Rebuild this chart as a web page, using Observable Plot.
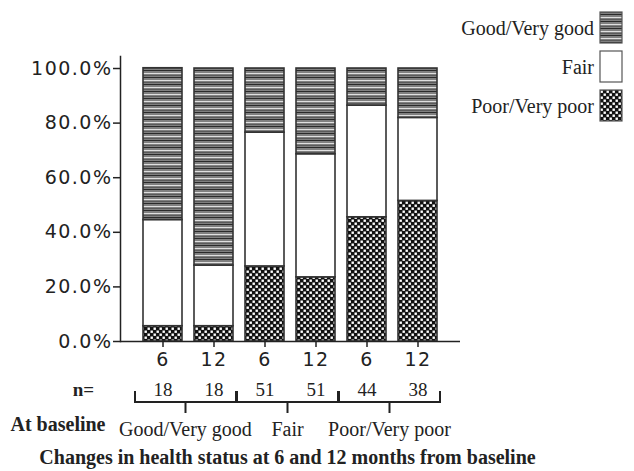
<!DOCTYPE html>
<html>
<head>
<meta charset="utf-8">
<script src="https://cdn.jsdelivr.net/npm/d3@7"></script>
<script src="https://cdn.jsdelivr.net/npm/@observablehq/plot@0.6"></script>
<style>
  html, body { margin: 0; padding: 0; background: #fff; }
  #chart g[aria-label="y-axis tick label"] text,
  #chart g[aria-label="x-axis tick label"] text { letter-spacing: 1.5px; }
</style>
</head>
<body>
<div id="chart"></div>
<script>
// ---- data ----
const categories = ["Poor/Very poor", "Fair", "Good/Very good"]; // stacked bottom -> top
const legendOrder = ["Good/Very good", "Fair", "Poor/Very poor"];
const groups = ["Good/Very good", "Fair", "Poor/Very poor"];
const barGroup = [0, 0, 1, 1, 2, 2];
const months = ["6", "12", "6", "12", "6", "12"];
const nValues = [18, 18, 51, 51, 44, 38];
const poorValues = [5.6, 5.6, 27.5, 23.5, 45.5, 51.5];
const fairValues = [38.9, 22.2, 49.0, 45.1, 40.9, 30.4];
const goodValues = [55.6, 72.2, 23.5, 31.4, 13.6, 18.1];
const yTicks = [0, 20, 40, 60, 80, 100];

const barIds = months.map((m, i) => i);
const rows = [];
barIds.forEach(i => {
  rows.push({bar: i, cat: categories[0], value: poorValues[i]});
  rows.push({bar: i, cat: categories[1], value: fairValues[i]});
  rows.push({bar: i, cat: categories[2], value: goodValues[i]});
});
const patternOf = {"Poor/Very poor": "url(#pat-poor)", "Fair": "#ffffff", "Good/Very good": "url(#pat-good)"};

const serif = "Liberation Serif, Times New Roman, serif";
const sans = "DejaVu Sans, sans-serif";

const plot = Plot.plot({
  width: 634,
  height: 471,
  marginLeft: 120,
  marginRight: 174,
  marginTop: 56,
  marginBottom: 130,
  style: {fontFamily: sans, fontSize: "19px", color: "#222", background: "#fff"},
  x: {domain: barIds, paddingInner: 0.245, paddingOuter: 0.44, axis: null},
  y: {domain: [0, 104.4], axis: null},
  color: {domain: categories, range: categories.map(c => patternOf[c])},
  marks: [
    Plot.barY(rows, {x: "bar", y: "value", fill: "cat", stroke: "#333", strokeWidth: 1.6}),
    Plot.frame({anchor: "left", stroke: "#222", strokeWidth: 1.5}),
    Plot.ruleY([0], {stroke: "#222", strokeWidth: 1.5}),
    Plot.axisY({ticks: yTicks, tickFormat: d => d.toFixed(1) + "%", tickSize: 7, tickPadding: 1, label: null,
      fontSize: 19, fontFamily: sans, stroke: "#222", strokeWidth: 1.5}),
    Plot.axisX({tickSize: 6, tickPadding: 5, tickFormat: i => months[i], label: null, fontSize: 19, fontFamily: sans,
      stroke: "#222", strokeWidth: 1.5}),
    Plot.text(barIds, {x: d => d, text: i => String(nValues[i]), frameAnchor: "bottom", dy: 54,
      fontFamily: serif, fontSize: 19, fill: "#222"}),
    Plot.text(["n="], {frameAnchor: "bottom-left", dx: -37, dy: 54, fontFamily: serif, fontWeight: "bold",
      fontSize: 19, fill: "#222", textAnchor: "middle"}),
    Plot.text(["At baseline"], {frameAnchor: "bottom-left", textAnchor: "end", dx: -15, dy: 89, fontFamily: serif,
      fontWeight: "bold", fontSize: 20, fill: "#222"}),
    Plot.text(["Changes in health status at 6 and 12 months from baseline"], {frameAnchor: "bottom", dx: -3, dy: 122,
      fontFamily: serif, fontWeight: "bold", fontSize: 20, fill: "#222"})
  ]
});

document.getElementById("chart").appendChild(plot);

const svg = d3.select(plot);
// patterns
const defs = svg.insert("defs", ":first-child");
const pg = defs.append("pattern").attr("id", "pat-good").attr("patternUnits", "userSpaceOnUse")
  .attr("width", 8).attr("height", 7);
pg.append("rect").attr("width", 8).attr("height", 7).attr("fill", "#808080");
pg.append("rect").attr("y", 0).attr("width", 8).attr("height", 1).attr("fill", "#2a2a2a");
pg.append("rect").attr("y", 3).attr("width", 8).attr("height", 1).attr("fill", "#e0e0e0");
pg.append("rect").attr("y", 5).attr("width", 8).attr("height", 1).attr("fill", "#5a5a5a");
const pp = defs.append("pattern").attr("id", "pat-poor").attr("patternUnits", "userSpaceOnUse")
  .attr("width", 6).attr("height", 6);
pp.append("rect").attr("width", 6).attr("height", 6).attr("fill", "#111");
pp.append("rect").attr("x", 0.5).attr("y", 0.5).attr("width", 2.4).attr("height", 2.4).attr("fill", "#fff");
pp.append("rect").attr("x", 3.5).attr("y", 3.5).attr("width", 2.4).attr("height", 2.4).attr("fill", "#fff");

// brackets & group labels from the x scale
const xs = plot.scale("x");
const bw = xs.bandwidth;
const y0 = 341;
const br = svg.append("g").attr("stroke", "#222").attr("stroke-width", 2).attr("fill", "none");
const lab = svg.append("g").attr("font-family", serif).attr("font-size", 20).attr("fill", "#222")
  .attr("text-anchor", "middle");
groups.forEach((g, gi) => {
  const ids = barIds.filter(i => barGroup[i] === gi);
  const left = xs.apply(ids[0]) - 8;
  const right = xs.apply(ids[ids.length - 1]) + bw + 3;
  const mid = (left + right) / 2;
  br.append("path").attr("d", `M${left},${y0 + 50}V${y0 + 61}H${right}V${y0 + 50}M${mid},${y0 + 61}V${y0 + 72}`);
  lab.append("text").attr("x", mid).attr("y", y0 + 89).attr("dy", "0.32em").text(g);
});

// legend
const lg = svg.append("g").attr("font-family", serif).attr("font-size", 20).attr("fill", "#222");
legendOrder.forEach((c, k) => {
  const top = 12 + k * 39;
  lg.append("rect").attr("x", 600).attr("y", top).attr("width", 22).attr("height", 31)
    .attr("fill", patternOf[c]).attr("stroke", "#555").attr("stroke-width", 1.2);
  lg.append("text").attr("x", 594).attr("y", top + 17).attr("dy", "0.32em").attr("text-anchor", "end").text(c);
});
</script>
</body>
</html>
